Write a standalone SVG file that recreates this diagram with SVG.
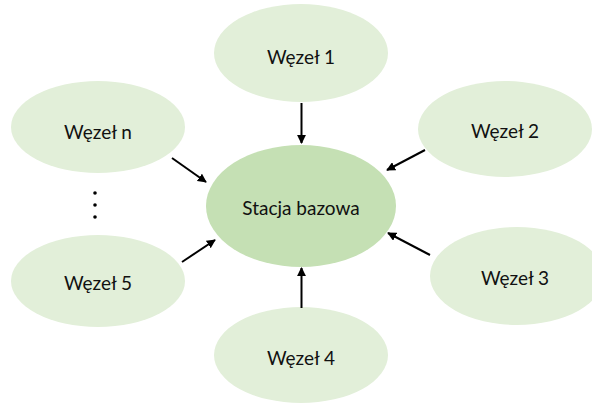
<svg xmlns="http://www.w3.org/2000/svg" width="592" height="405" viewBox="0 0 592 405">
  <style>
    .node { fill: #e2efd9; }
    .hub { fill: #c5e0b4; }
    .label { font-family: Lato, "Liberation Sans", sans-serif; font-size: 19px; fill: #111; text-anchor: middle; dominant-baseline: central; }
    .link { stroke: #000; stroke-width: 2; fill: none; marker-end: url(#head); }
  </style>
  <defs>
    <marker id="head" viewBox="0 0 10 10" refX="9" refY="5" markerWidth="4.5" markerHeight="4.5" markerUnits="strokeWidth" orient="auto">
      <path d="M0,0 L10,5 L0,10 z" fill="#000"/>
    </marker>
  </defs>

  <g id="stacja">
    <ellipse class="hub" cx="301" cy="206" rx="95" ry="61"/>
    <text class="label" x="301" y="207">Stacja bazowa</text>
  </g>
  <g id="wezel1">
    <ellipse class="node" cx="301" cy="53" rx="87" ry="49"/>
    <text class="label" x="301" y="56">Węzeł 1</text>
  </g>
  <g id="wezel2">
    <ellipse class="node" cx="505" cy="129" rx="87" ry="48"/>
    <text class="label" x="505" y="130">Węzeł 2</text>
  </g>
  <g id="wezel3">
    <ellipse class="node" cx="517" cy="276" rx="87" ry="49"/>
    <text class="label" x="515" y="277">Węzeł 3</text>
  </g>
  <g id="wezel4">
    <ellipse class="node" cx="301" cy="355" rx="87" ry="48"/>
    <text class="label" x="301" y="357">Węzeł 4</text>
  </g>
  <g id="wezel5">
    <ellipse class="node" cx="98" cy="281" rx="87" ry="46"/>
    <text class="label" x="98" y="282">Węzeł 5</text>
  </g>
  <g id="wezeln">
    <ellipse class="node" cx="98" cy="127" rx="87" ry="46"/>
    <text class="label" x="98" y="131">Węzeł n</text>
  </g>
  <g id="kropki" fill="#000">
    <circle cx="95" cy="193" r="1.8"/>
    <circle cx="95" cy="205" r="1.8"/>
    <circle cx="95" cy="217" r="1.8"/>
  </g>

  <g id="polaczenia">
    <line class="link" x1="301.5" y1="103" x2="301.5" y2="143"/>
    <line class="link" x1="301.5" y1="308" x2="301.5" y2="268"/>
    <line class="link" x1="425" y1="150" x2="387" y2="170"/>
    <line class="link" x1="430" y1="255" x2="388" y2="233"/>
    <line class="link" x1="172" y1="158" x2="206" y2="182"/>
    <line class="link" x1="182" y1="262" x2="215" y2="240"/>
  </g>
</svg>
